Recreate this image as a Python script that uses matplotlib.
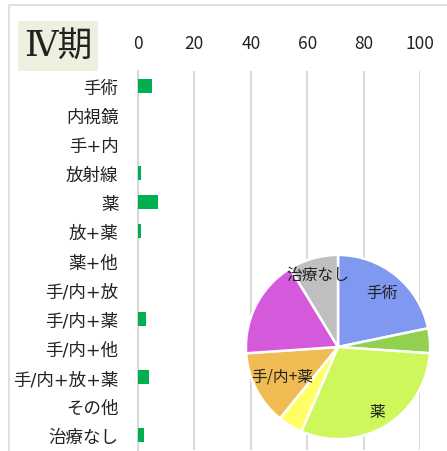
import numpy as np
import matplotlib
matplotlib.use('Agg')
import matplotlib.pyplot as plt
from matplotlib.patches import Rectangle

plt.rcParams['font.family'] = ['Noto Sans CJK JP', 'DejaVu Sans']

# data
categories = ['手術', '内視鏡', '手+内', '放射線', '薬', '放+薬', '薬+他',
              '手/内+放', '手/内+薬', '手/内+他', '手/内+放+薬', 'その他', '治療なし']
counts = [5, 0, 0, 1, 7, 1, 0, 0, 3, 0, 4, 0, 2]
xticks = [0, 20, 40, 60, 80, 100]

pie_colors = {'手術': '#7F98F0', '放射線': '#92D050', '薬': '#CDF75B',
              '放+薬': '#FFFF66', '手/内+薬': '#F2BC55', '手/内+放+薬': '#D55ADB',
              '治療なし': '#BFBFBF'}
pie_labels = {'手術': 0.76, '薬': 0.82, '手/内+薬': 0.68, '治療なし': 0.82}

W, H = 447, 452
fig = plt.figure(figsize=(W / 100, H / 100), dpi=100)

# outer frame
fig.patches.append(Rectangle((9 / W, -0.1), 1.2, 1 - 6 / H + 0.1, transform=fig.transFigure,
                             fill=False, edgecolor='#D9D9D9', linewidth=1.2))

# bar chart
ax = fig.add_axes([138 / W, 1 - 451 / H, 282 / W, (451 - 72) / H])
y = np.arange(len(categories))
ax.barh(y, counts, height=0.48, color='#00B050', linewidth=0, zorder=3)
ax.set_ylim(len(categories) - 0.5, -0.5)
ax.set_xlim(0, 100)
ax.set_yticks(y)
ax.set_yticklabels(categories, fontsize=12.6, color='#222222',
                   family=['DejaVu Sans', 'Noto Sans CJK JP'])
ax.set_xticks(xticks)
ax.set_xticklabels([str(t) for t in xticks], fontsize=12.5, color='#222222')
ax.xaxis.tick_top()
ax.tick_params(axis='x', length=0, pad=13.5)
ax.tick_params(axis='y', length=0, pad=14)
ax.grid(axis='x', color='#D9D9D9', linewidth=1.5, zorder=0)
for s in ['top', 'right', 'bottom']:
    ax.spines[s].set_visible(False)
ax.spines['left'].set_color('#D9D9D9')
ax.spines['left'].set_linewidth(1.5)

# title box
fig.patches.append(Rectangle((18 / W, 1 - 72 / H), 80 / W, 50 / H, transform=fig.transFigure,
                             facecolor='#EBF1DE', edgecolor='none'))
fig.text(58 / W, 1 - 47 / H, 'Ⅳ期', ha='center', va='center', fontsize=25,
         family=['DejaVu Serif', 'Noto Sans CJK JP'], color='#222222')

# pie
names = [c for c, v in zip(categories, counts) if v > 0]
vals = [v for v in counts if v > 0]
pax = fig.add_axes([245 / W, 1 - 441 / H, 186 / W, 186 / H])
pax.patch.set_alpha(0)
wedges, _ = pax.pie(vals, colors=[pie_colors[n] for n in names], startangle=90,
                    counterclock=False, radius=1,
                    wedgeprops=dict(edgecolor='white', linewidth=1.8))
for w, n in zip(wedges, names):
    if n in pie_labels:
        ang = np.deg2rad((w.theta1 + w.theta2) / 2)
        r = pie_labels[n]
        pax.text(r * np.cos(ang), r * np.sin(ang), n, ha='center', va='center',
                 fontsize=11.3, color='#222222')
pax.set_xlim(-1.01, 1.01)
pax.set_ylim(-1.01, 1.01)
pax.set_aspect('equal')

fig.savefig('out.png', dpi=100)
